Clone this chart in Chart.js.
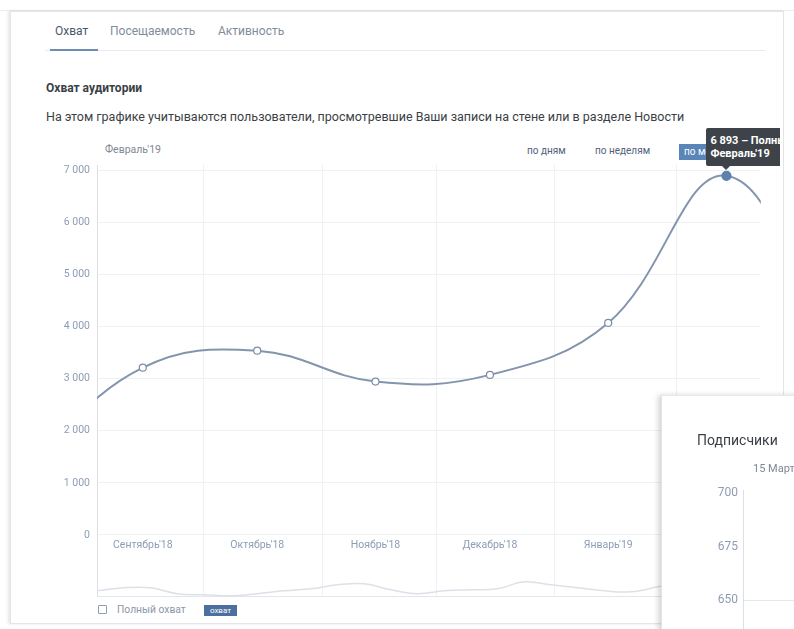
<!DOCTYPE html>
<html><head><meta charset="utf-8">
<script src="https://cdn.jsdelivr.net/npm/chart.js@4.4.1/dist/chart.umd.min.js"></script>
<style>
html,body{margin:0;padding:0;background:#fff;width:794px;height:629px;overflow:hidden;font-family:Roboto,"Liberation Sans",Arial,sans-serif;}
.abs{position:absolute;white-space:nowrap;}
#topline{position:absolute;left:0;top:10px;width:794px;height:1px;background:#ececef;}
#card{position:absolute;left:10px;top:11px;width:772px;height:611px;border:1px solid #e4e5e9;background:#fff;box-shadow:-2px 0 3px rgba(0,0,0,0.10);}
.tab{font-size:12px;color:#828d9b;top:24px;}
#tabline{position:absolute;left:45px;top:50px;width:720px;height:1px;background:#e9eaee;}
#tabul{position:absolute;left:50px;top:49px;width:48px;height:2px;background:#6f8db1;}
#title{left:46px;top:81px;font-size:12px;font-weight:bold;color:#3b3f45;}
#desc{left:46px;top:109px;font-size:12.5px;color:#3b3f45;}
#curm{left:105px;top:143px;font-size:10.5px;color:#7e8894;}
.btn{top:145px;font-size:10px;color:#4f6379;}
#bm{left:679px;top:144px;width:66px;height:16px;background:#5a85b8;color:#fff;font-size:10px;line-height:16px;text-indent:5px;overflow:hidden;}
#wrap{position:absolute;left:40px;top:160px;width:726px;height:442px;}
#clip{position:absolute;left:0;top:0;width:780px;height:629px;overflow:hidden;pointer-events:none;}
#tip{position:absolute;display:none;background:#3e4349;color:#fff;font-size:11px;font-weight:bold;line-height:13px;padding:6px 4px;white-space:nowrap;border-radius:2px;}
#tip:after{content:"";position:absolute;left:16px;bottom:-4px;border-left:4px solid transparent;border-right:4px solid transparent;border-top:4px solid #3e4349;}
#chk{left:98px;top:605px;width:7px;height:7px;border:1px solid #8d9cb0;border-radius:1px;}
#chkt{left:117px;top:603px;font-size:10.3px;color:#8a97a8;}
#chip{left:204px;top:605px;width:33px;height:11px;background:#4b6f9e;color:#fff;font-size:8px;line-height:11px;text-align:center;}
#sub{position:absolute;left:661px;top:395px;width:140px;height:240px;background:#fff;border-left:1px solid #e2e3e6;border-top:1px solid #e8e9ec;box-shadow:-3px 0 5px rgba(0,0,0,0.16);}
#subt{left:697px;top:432px;font-size:14px;color:#3b3f45;}
#subd{left:753px;top:462px;font-size:11px;color:#7e8894;}
#subwrap{position:absolute;left:697px;top:486px;width:110px;height:143px;}
</style></head>
<body>
<div id="topline"></div>
<div id="card"></div>
<div class="abs tab" style="left:55px;color:#4a5868;">Охват</div>
<div class="abs tab" style="left:110px;">Посещаемость</div>
<div class="abs tab" style="left:218px;">Активность</div>
<div id="tabline"></div>
<div id="tabul"></div>
<div class="abs" id="title">Охват аудитории</div>
<div class="abs" id="desc">На этом графике учитываются пользователи, просмотревшие Ваши записи на стене или в разделе Новости</div>
<div class="abs" id="curm">Февраль'19</div>
<div class="abs btn" style="left:527px;">по дням</div>
<div class="abs btn" style="left:595px;">по неделям</div>
<div class="abs" id="bm">по месяцам</div>
<div id="wrap"><canvas id="c"></canvas></div>
<div class="abs" id="chk"></div>
<div class="abs" id="chkt">Полный охват</div>
<div class="abs" id="chip">охват</div>
<div id="sub"></div>
<div class="abs" id="subt">Подписчики</div>
<div class="abs" id="subd">15 Марта</div>
<div id="subwrap"><canvas id="s"></canvas></div>
<div id="clip"><div id="tip"><div id="tip1"></div><div id="tip2"></div></div></div>
<script>
// ---- data ----
const months = ["Август'18","Сентябрь'18","Октябрь'18","Ноябрь'18","Декабрь'18","Январь'19","Февраль'19","Март'19"];
const monthDates = ["2018-08-01","2018-09-01","2018-10-01","2018-11-01","2018-12-01","2019-01-01","2019-02-01","2019-03-01"];
const reach = [1300, 3210, 3537, 2944, 3072, 4070, 6893, 3400];
const yTicks = [0, 1000, 2000, 3000, 4000, 5000, 6000, 7000];
const labelMonths = [1, 2, 3, 4, 5, 6];           // indices of months labelled on the axis
const gridDates = ["2018-09-17","2018-10-18","2018-11-17","2018-12-18","2019-01-19"];
const viewFrom = "2018-08-20", viewTo = "2019-02-10";
const navDays = [-12,-5,2,9,16,23,30,37,44,51,58,65,72,79,86,93,100,107,114,121,128,135,142,149,156,163];
const navReach = [83,125,125,42,28,14,42,83,111,166,180,97,42,83,97,111,208,166,125,83,69,139,222,291,332,291];
const navTicks = [0];
const subTicks = [650, 675, 700];
const tipIndex = 6;
const tipLabel = "Полный охват";

const day0 = Date.UTC(2018, 8, 1);
function dayOf(s){ const p = s.split('-').map(Number); return (Date.UTC(p[0], p[1]-1, p[2]) - day0) / 86400000; }
const fmt = v => String(v).replace(/\B(?=(\d{3})+(?!\d))/g, ' ');

const lineColor = '#8395ad';
const tickColor = '#8d9db4';

const tipPlugin = {
  id: 'tip',
  afterRender(chart){
    const p = chart.getDatasetMeta(0).data[tipIndex];
    const r = chart.canvas.getBoundingClientRect();
    const tip = document.getElementById('tip');
    document.getElementById('tip1').textContent = fmt(reach[tipIndex]) + ' \u2013 ' + tipLabel;
    document.getElementById('tip2').textContent = months[tipIndex];
    tip.style.left = (r.left + p.x - 20) + 'px';
    tip.style.top = (r.top + p.y - 48) + 'px';
    tip.style.display = 'block';
  }
};
const noPadX = s => { s.height = 0; s.paddingLeft = 0; s.paddingRight = 0; };

new Chart(document.getElementById('c'), {
  type: 'line',
  data: {
    datasets: [{
      data: reach.map((v, i) => ({x: dayOf(monthDates[i]), y: v})),
      borderColor: lineColor,
      borderWidth: 2,
      tension: 0.4,
      pointRadius: ctx => ctx.dataIndex === tipIndex ? 4.5 : 3.5,
      pointBackgroundColor: ctx => ctx.dataIndex === tipIndex ? '#5d80ad' : '#ffffff',
      pointBorderColor: ctx => ctx.dataIndex === tipIndex ? '#5d80ad' : '#7b8ea8',
      pointBorderWidth: 1.2,
      yAxisID: 'y', xAxisID: 'x'
    }, {
      data: navReach.map((v, i) => ({x: navDays[i], y: v})),
      borderColor: '#dde1e7',
      borderWidth: 1.5,
      tension: 0.4,
      pointRadius: 0,
      yAxisID: 'yNav', xAxisID: 'x'
    }]
  },
  options: {
    responsive: true, maintainAspectRatio: false, animation: false,
    layout: {padding: {top: 5, right: 2, bottom: 2, left: 0}},
    plugins: {legend: {display: false}, tooltip: {enabled: false}},
    events: [],
    scales: {
      x: {
        type: 'linear', axis: 'x', position: {y: 0},
        min: dayOf(viewFrom), max: dayOf(viewTo),
        grid: {display: false, drawTicks: false},
        border: {display: false},
        afterBuildTicks: s => { s.ticks = labelMonths.map(i => ({value: dayOf(monthDates[i])})); },
        afterFit: noPadX,
        ticks: {autoSkip: false, maxRotation: 0, padding: 4, color: tickColor,
                font: {size: 10.5, family: 'Roboto'},
                callback: (v, i) => months[labelMonths[i]]}
      },
      xg: {
        type: 'linear', axis: 'x', position: {y: 0},
        min: dayOf(viewFrom), max: dayOf(viewTo),
        grid: {color: '#eff1f4', drawTicks: false},
        border: {display: false},
        afterBuildTicks: s => { s.ticks = gridDates.map(d => ({value: dayOf(d)})); },
        afterFit: noPadX,
        ticks: {display: false}
      },
      y: {
        min: -1186, max: 7096,
        afterBuildTicks: s => { s.ticks = yTicks.map(v => ({value: v})); },
        afterFit: s => { s.width = 57; s.paddingTop = 0; s.paddingBottom = 0; },
        grid: {color: '#eff1f4', drawTicks: false},
        border: {display: true, color: '#dcdfe4'},
        ticks: {padding: 7, color: tickColor, font: {size: 10.5, family: 'Roboto'}, callback: v => fmt(v)}
      },
      yNav: {
        position: 'right', min: 0, max: 6000,
        afterBuildTicks: s => { s.ticks = navTicks.map(v => ({value: v})); },
        afterFit: s => { s.width = 0; s.paddingTop = 0; s.paddingBottom = 0; },
        grid: {color: '#e3e6ea', drawTicks: false},
        border: {display: false},
        ticks: {display: false}
      }
    }
  },
  plugins: [tipPlugin]
});

new Chart(document.getElementById('s'), {
  type: 'line',
  data: {datasets: []},
  options: {
    responsive: true, maintainAspectRatio: false, animation: false, events: [],
    layout: {padding: {top: 4, right: 0, bottom: 0, left: 0}},
    plugins: {legend: {display: false}, tooltip: {enabled: false}},
    scales: {
      x: {type: 'linear', display: false, min: 0, max: 1},
      y: {
        min: 636.7, max: 701.4,
        afterBuildTicks: s => { s.ticks = subTicks.map(v => ({value: v})); },
        afterFit: s => { s.width = 46; s.paddingTop = 0; s.paddingBottom = 0; },
        grid: {color: ctx => ctx.tick && ctx.tick.value === 650 ? '#e3e6ea' : 'rgba(0,0,0,0)', drawTicks: false},
        border: {display: true, color: '#dcdfe4'},
        ticks: {padding: 5, color: tickColor, font: {size: 12, family: 'Roboto'}}
      }
    }
  }
});
</script>
</body></html>
